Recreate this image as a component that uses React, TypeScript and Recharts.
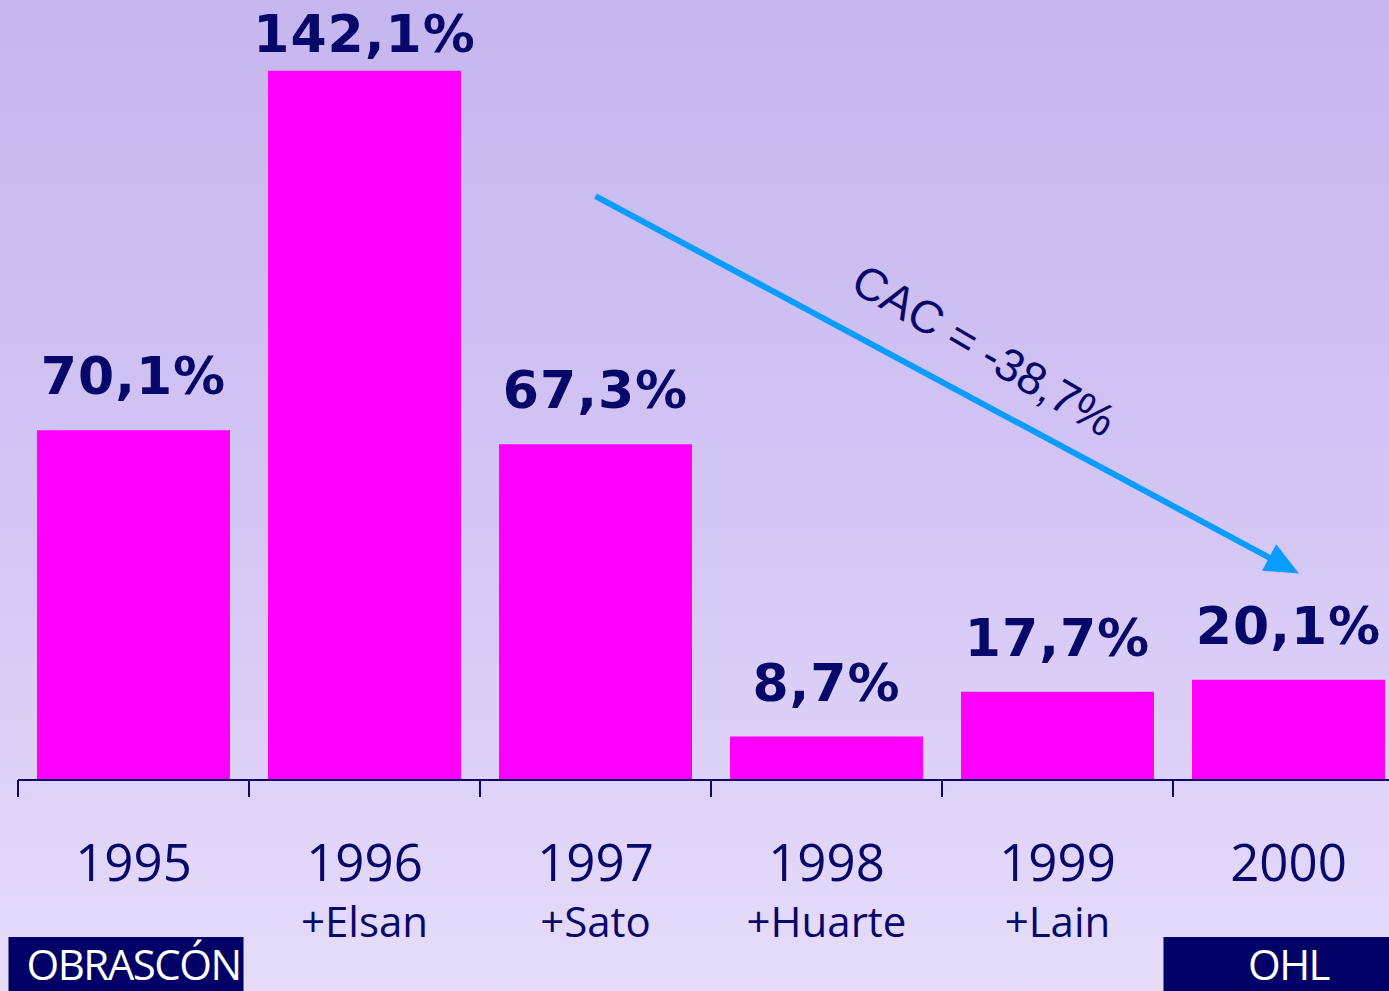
import React from 'react';
import { BarChart, Bar, XAxis, YAxis, LabelList, ReferenceLine } from 'recharts';

const years = ['1995', '1996', '1997', '1998', '1999', '2000'];
const acquisitions = ['', '+Elsan', '+Sato', '+Huarte', '+Lain', ''];
const companies = ['OBRASCÓN', '', '', '', '', 'OHL'];
const growth = [70.1, 142.1, 67.3, 8.7, 17.7, 20.1];
const cacLabel = 'CAC = -38,7%';
const arrowStart = { year: '1997', value: 117 };
const arrowEnd = { year: '2000', value: 42.5 };

const data = years.map((y, i) => ({
  year: y,
  sub: acquisitions[i],
  company: companies[i],
  growth: growth[i],
}));

const NAVY = '#08086a';
const fmt = (v: number) => v.toFixed(1).replace('.', ',') + '%';

const ValueLabel = (props: any) => {
  const { x, y, width, value } = props;
  const baseline = Math.max(y - 36, 52);
  return (
    <text
      x={x + width / 2}
      y={baseline}
      textAnchor="middle"
      fill={NAVY}
      fontFamily="'DejaVu Sans', sans-serif"
      fontWeight={700}
      fontSize={52}
      letterSpacing={1}
    >
      {fmt(value)}
    </text>
  );
};

const Tick = (props: any) => {
  const { x, y, payload, index } = props;
  const half = payload && payload.offset ? payload.offset : 115.5;
  const d = data[index] || data.find((e) => e.year === payload.value);
  const left = x - half;
  return (
    <g>
      <line x1={left} y1={y} x2={left} y2={y + 17} stroke={NAVY} strokeWidth={2} />
      <text
        x={x}
        y={y + 101}
        textAnchor="middle"
        fill={NAVY}
        fontFamily="'Open Sans', sans-serif"
        fontSize={51}
      >
        {payload.value}
      </text>
      {d && d.sub ? (
        <text
          x={x}
          y={y + 157}
          textAnchor="middle"
          fill={NAVY}
          fontFamily="'Open Sans', sans-serif"
          fontSize={42}
        >
          {d.sub}
        </text>
      ) : null}
      {d && d.company ? (
        <g>
          <rect x={x - 125} y={y + 157} width={235} height={70} fill="#000066" />
          <text
            x={x}
            y={y + 200}
            textAnchor="middle"
            fill="#ffffff"
            fontFamily="'Open Sans', sans-serif"
            fontSize={42}
            letterSpacing={-1.5}
          >
            {d.company}
          </text>
        </g>
      ) : null}
    </g>
  );
};

const ArrowShape = (props: any) => {
  const { x1, y1, x2, y2 } = props;
  if (x1 == null) return null;
  const dx = x2 - x1;
  const dy = y2 - y1;
  const len = Math.sqrt(dx * dx + dy * dy);
  const ux = dx / len;
  const uy = dy / len;
  const nx = uy;
  const ny = -ux;
  const headLen = 34;
  const headW = 15;
  const tx = x2 + ux * 12;
  const ty = y2 + uy * 12;
  const bx = tx - ux * headLen;
  const by = ty - uy * headLen;
  const angle = (Math.atan2(dy, dx) * 180) / Math.PI;
  const mx = (x1 + x2) / 2 + ux * 22 + nx * 48;
  const my = (y1 + y2) / 2 + uy * 22 + ny * 48;
  return (
    <g>
      <line x1={x1} y1={y1} x2={bx + ux * 4} y2={by + uy * 4} stroke="#0a9cff" strokeWidth={6} />
      <polygon
        points={`${tx},${ty} ${bx + nx * headW},${by + ny * headW} ${bx - nx * headW},${by - ny * headW}`}
        fill="#0a9cff"
      />
      <text
        x={mx}
        y={my}
        textAnchor="middle"
        dominantBaseline="central"
        fill={NAVY}
        fontFamily="'Liberation Sans', Arial, sans-serif"
        fontSize={46}
        transform={`rotate(${angle + 2}, ${mx}, ${my})`}
      >
        {cacLabel}
      </text>
    </g>
  );
};

export default function App() {
  return (
    <div
      style={{
        position: 'absolute',
        left: 0,
        top: 0,
        width: 1389,
        height: 991,
        overflow: 'hidden',
        background: 'linear-gradient(180deg, #c6b6ef 0%, #d3c5f4 50%, #e6dcfa 100%)',
      }}
    >
      <BarChart
        width={1404}
        height={991}
        data={data}
        margin={{ top: 0, right: 0, left: 18, bottom: 0 }}
      >
        <YAxis hide domain={[0, 156.3]} />
        <XAxis
          dataKey="year"
          height={211}
          interval={0}
          tickLine={false}
          tickSize={0}
          tickMargin={0}
          axisLine={{ stroke: NAVY, strokeWidth: 2 }}
          tick={<Tick />}
        />
        <Bar dataKey="growth" fill="#ff00ff" barSize={193} isAnimationActive={false}>
          <LabelList dataKey="growth" content={<ValueLabel />} />
        </Bar>
        <ReferenceLine
          segment={[
            { x: arrowStart.year, y: arrowStart.value },
            { x: arrowEnd.year, y: arrowEnd.value },
          ]}
          ifOverflow="visible"
          shape={<ArrowShape />}
        />
      </BarChart>
    </div>
  );
}
